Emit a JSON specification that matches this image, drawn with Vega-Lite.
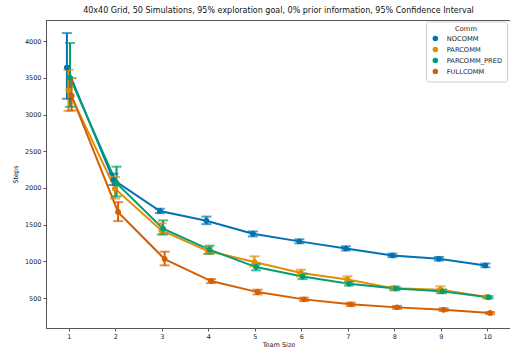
{
  "$schema": "https://vega.github.io/schema/vega-lite/v6.json",
  "autosize": "none",
  "width": 465,
  "height": 308,
  "padding": {"left": 46, "top": 20, "right": 0, "bottom": 23},
  "background": "white",
  "config": {
    "font": "DejaVu Sans",
    "view": {"stroke": "#555", "strokeWidth": 1},
    "axis": {"grid": false, "domainColor": "#555", "tickColor": "#555", "labelColor": "#222", "titleColor": "#222", "labelFontSize": 6.5, "titleFontSize": 6.5, "titleFontWeight": "normal", "tickSize": 3, "labelPadding": 2}
  },
  "title": {"text": "40x40 Grid, 50 Simulations, 95% exploration goal, 0% prior information, 95% Confidence Interval", "fontSize": 8, "fontWeight": "normal", "color": "#111", "anchor": "middle", "offset": 5},
  "data": {"values": [
    {"team": 1, "comm": "NOCOMM", "mean": 3640, "lo": 3215, "hi": 4110},
    {"team": 2, "comm": "NOCOMM", "mean": 2110, "lo": 2040, "hi": 2195},
    {"team": 3, "comm": "NOCOMM", "mean": 1685, "lo": 1657, "hi": 1717},
    {"team": 4, "comm": "NOCOMM", "mean": 1554, "lo": 1507, "hi": 1610},
    {"team": 5, "comm": "NOCOMM", "mean": 1375, "lo": 1340, "hi": 1408},
    {"team": 6, "comm": "NOCOMM", "mean": 1272, "lo": 1245, "hi": 1300},
    {"team": 7, "comm": "NOCOMM", "mean": 1176, "lo": 1148, "hi": 1205},
    {"team": 8, "comm": "NOCOMM", "mean": 1081, "lo": 1058, "hi": 1105},
    {"team": 9, "comm": "NOCOMM", "mean": 1036, "lo": 1010, "hi": 1060},
    {"team": 10, "comm": "NOCOMM", "mean": 945, "lo": 920, "hi": 970},
    {"team": 1, "comm": "PARCOMM", "mean": 3330, "lo": 3050, "hi": 3610},
    {"team": 2, "comm": "PARCOMM", "mean": 1990, "lo": 1855, "hi": 2148},
    {"team": 3, "comm": "PARCOMM", "mean": 1420, "lo": 1367, "hi": 1520},
    {"team": 4, "comm": "PARCOMM", "mean": 1140, "lo": 1100, "hi": 1195},
    {"team": 5, "comm": "PARCOMM", "mean": 990, "lo": 932, "hi": 1068},
    {"team": 6, "comm": "PARCOMM", "mean": 840, "lo": 795, "hi": 886},
    {"team": 7, "comm": "PARCOMM", "mean": 754, "lo": 704, "hi": 795},
    {"team": 8, "comm": "PARCOMM", "mean": 632, "lo": 608, "hi": 656},
    {"team": 9, "comm": "PARCOMM", "mean": 614, "lo": 568, "hi": 659},
    {"team": 10, "comm": "PARCOMM", "mean": 513, "lo": 498, "hi": 528},
    {"team": 1, "comm": "PARCOMM_PRED", "mean": 3500, "lo": 3105, "hi": 3975},
    {"team": 2, "comm": "PARCOMM_PRED", "mean": 2066, "lo": 1885, "hi": 2290},
    {"team": 3, "comm": "PARCOMM_PRED", "mean": 1445, "lo": 1367, "hi": 1558},
    {"team": 4, "comm": "PARCOMM_PRED", "mean": 1159, "lo": 1104, "hi": 1213},
    {"team": 5, "comm": "PARCOMM_PRED", "mean": 922, "lo": 877, "hi": 959},
    {"team": 6, "comm": "PARCOMM_PRED", "mean": 795, "lo": 758, "hi": 832},
    {"team": 7, "comm": "PARCOMM_PRED", "mean": 696, "lo": 670, "hi": 722},
    {"team": 8, "comm": "PARCOMM_PRED", "mean": 630, "lo": 606, "hi": 654},
    {"team": 9, "comm": "PARCOMM_PRED", "mean": 591, "lo": 566, "hi": 616},
    {"team": 10, "comm": "PARCOMM_PRED", "mean": 510, "lo": 495, "hi": 525},
    {"team": 1, "comm": "FULLCOMM", "mean": 3256, "lo": 3055, "hi": 3495},
    {"team": 2, "comm": "FULLCOMM", "mean": 1671, "lo": 1548, "hi": 1807},
    {"team": 3, "comm": "FULLCOMM", "mean": 1031, "lo": 945, "hi": 1132},
    {"team": 4, "comm": "FULLCOMM", "mean": 731, "lo": 704, "hi": 758},
    {"team": 5, "comm": "FULLCOMM", "mean": 581, "lo": 550, "hi": 614},
    {"team": 6, "comm": "FULLCOMM", "mean": 482, "lo": 458, "hi": 506},
    {"team": 7, "comm": "FULLCOMM", "mean": 414, "lo": 390, "hi": 438},
    {"team": 8, "comm": "FULLCOMM", "mean": 373, "lo": 353, "hi": 393},
    {"team": 9, "comm": "FULLCOMM", "mean": 342, "lo": 322, "hi": 362},
    {"team": 10, "comm": "FULLCOMM", "mean": 295, "lo": 280, "hi": 310}
  ]},
  "encoding": {
    "x": {"field": "team", "type": "ordinal", "title": "Team Size", "scale": {"type": "band", "paddingInner": 0, "paddingOuter": 0}, "axis": {"labelAngle": 0, "titlePadding": 2}},
    "xOffset": {"field": "comm", "type": "nominal", "sort": ["NOCOMM", "PARCOMM", "PARCOMM_PRED", "FULLCOMM"], "scale": {"type": "point", "padding": 0, "range": [20.9, 25.6]}},
    "color": {"field": "comm", "type": "nominal", "sort": ["NOCOMM", "PARCOMM", "PARCOMM_PRED", "FULLCOMM"], "scale": {"domain": ["NOCOMM", "PARCOMM", "PARCOMM_PRED", "FULLCOMM"], "range": ["#0173b2", "#de8f05", "#029e73", "#d55e00"]},
      "legend": {"title": "Comm", "orient": "none", "legendX": 380, "legendY": 1.5, "symbolType": "circle", "symbolSize": 30, "symbolStrokeWidth": 0, "labelFontSize": 6.7, "titleFontSize": 6.7, "titleFontWeight": "normal", "titleAnchor": "middle", "titleColor": "#222", "labelColor": "#222", "rowPadding": 0, "clipHeight": 10.7, "padding": 4, "strokeColor": "#ccc", "cornerRadius": 2, "fillColor": "white", "symbolOffset": 2, "labelOffset": 8, "titlePadding": 1}}
  },
  "layer": [
    {"mark": {"type": "point", "filled": true, "opacity": 1, "size": 30},
     "encoding": {"y": {"field": "mean", "type": "quantitative", "title": "Steps", "scale": {"domain": [92, 4288], "nice": false, "zero": false}, "axis": {"values": [500, 1000, 1500, 2000, 2500, 3000, 3500, 4000], "format": "d", "titlePadding": 6}}}},
    {"mark": {"type": "line", "strokeWidth": 2},
     "encoding": {"y": {"field": "mean", "type": "quantitative"}}},
    {"mark": {"type": "rule", "strokeWidth": 2},
     "encoding": {"y": {"field": "lo", "type": "quantitative"}, "y2": {"field": "hi"}}},
    {"mark": {"type": "tick", "size": 10, "thickness": 2},
     "encoding": {"y": {"field": "lo", "type": "quantitative"}}},
    {"mark": {"type": "tick", "size": 10, "thickness": 2},
     "encoding": {"y": {"field": "hi", "type": "quantitative"}}},
    {"mark": {"type": "point", "filled": true, "opacity": 1, "size": 30},
     "encoding": {"y": {"field": "mean", "type": "quantitative"}}}
  ]
}
